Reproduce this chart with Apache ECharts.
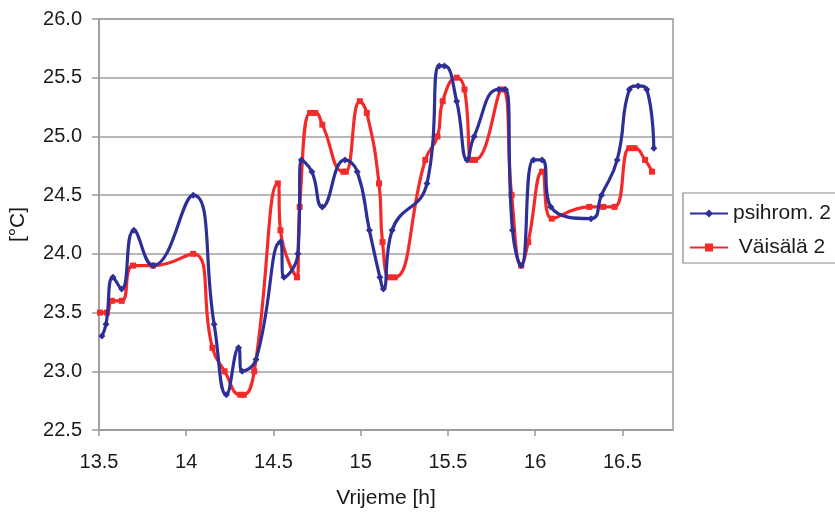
<!DOCTYPE html>
<html>
<head>
<meta charset="utf-8">
<script src="https://cdn.jsdelivr.net/npm/echarts@6/dist/echarts.min.js"></script>
<style>
  html, body { margin: 0; padding: 0; background: #ffffff; }
  #chart { width: 835px; height: 514px; }
</style>
</head>
<body>
<div id="chart"></div>
<script>
// Time of day [h] and temperature [°C] for the psychrometer
const psihromTime = [13.517, 13.54, 13.58, 13.63, 13.70, 13.81, 14.04, 14.16, 14.23, 14.30, 14.32, 14.40,
  14.54, 14.56, 14.64, 14.66, 14.72, 14.78, 14.91, 14.98, 15.05, 15.11, 15.13, 15.18, 15.38, 15.45,
  15.48, 15.55, 15.61, 15.65, 15.79, 15.83, 15.87, 15.92, 15.99, 16.04, 16.09, 16.32, 16.38, 16.47,
  16.54, 16.59, 16.64, 16.68];
const psihromTemp = [23.3, 23.4, 23.8, 23.7, 24.2, 23.9, 24.5, 23.4, 22.8, 23.2, 23.0, 23.1,
  24.1, 23.8, 24.0, 24.8, 24.7, 24.4, 24.8, 24.7, 24.2, 23.8, 23.7, 24.2, 24.6, 25.6,
  25.6, 25.3, 24.8, 25.0, 25.4, 25.4, 24.2, 23.9, 24.8, 24.8, 24.4, 24.3, 24.5, 24.8,
  25.4, 25.43, 25.4, 24.9];

// Time of day [h] and temperature [°C] for the Väisälä sensor
const vaisalaTime = [13.506, 13.546, 13.574, 13.63, 13.695, 13.81, 14.04, 14.15, 14.22, 14.31, 14.33, 14.39,
  14.525, 14.54, 14.635, 14.65, 14.71, 14.74, 14.78, 14.90, 14.915, 14.995, 15.035, 15.105, 15.125,
  15.165, 15.195, 15.37, 15.44, 15.47, 15.55, 15.595, 15.635, 15.655, 15.81, 15.865, 15.92, 15.96,
  16.04, 16.095, 16.31, 16.39, 16.455, 16.54, 16.57, 16.63, 16.67];
const vaisalaTemp = [23.5, 23.5, 23.6, 23.6, 23.9, 23.9, 24.0, 23.2, 23.0, 22.8, 22.8, 23.0,
  24.6, 24.2, 23.8, 24.4, 25.2, 25.2, 25.1, 24.7, 24.7, 25.3, 25.2, 24.6, 24.1,
  23.8, 23.8, 24.8, 25.0, 25.3, 25.5, 25.4, 24.8, 24.8, 25.4, 24.5, 23.9, 24.1,
  24.7, 24.3, 24.4, 24.4, 24.4, 24.9, 24.9, 24.8, 24.7];

const seriesNames = ['psihrom. 2', 'Väisälä 2'];
const xAxisTitle = 'Vrijeme [h]';
const yAxisTitle = '[°C]';

const pairs = (xs, ys) => xs.map((x, i) => [x, ys[i]]);

const FONT = 'Liberation Sans, Arial, sans-serif';
const BLUE = '#2D2F96';
const RED = '#F42A2A';
const INK = '#1a1a1a';
const GRID_GRAY = '#9a9a9a';

const chart = echarts.init(document.getElementById('chart'), null, { renderer: 'canvas' });
chart.setOption({
  backgroundColor: '#ffffff',
  animation: false,
  grid: {
    left: 99, top: 19, width: 574, height: 412,
    show: true, borderColor: GRID_GRAY, borderWidth: 1.5, backgroundColor: 'transparent'
  },
  legend: {
    orient: 'vertical',
    left: 683, top: 193,
    padding: [10, 40, 5, 6],
    itemGap: 13,
    itemWidth: 38, itemHeight: 10,
    borderColor: '#8a8a8a', borderWidth: 1.2, borderRadius: 0,
    textStyle: { fontFamily: FONT, fontSize: 21, color: INK },
    formatter: name => name === seriesNames[1] ? ' ' + name : name,
    data: seriesNames
  },
  xAxis: {
    type: 'value',
    min: 13.5, max: 16.79, interval: 0.5,
    name: xAxisTitle, nameLocation: 'middle', nameGap: 58,
    nameTextStyle: { fontFamily: FONT, fontSize: 21, color: INK },
    axisLine: { show: true, lineStyle: { color: GRID_GRAY, width: 1.5 } },
    axisTick: { show: true, inside: false, length: 6, lineStyle: { color: GRID_GRAY, width: 1.5 } },
    axisLabel: {
      margin: 22, fontFamily: FONT, fontSize: 20, color: INK,
      showMaxLabel: false,
      formatter: v => (Math.abs(v * 2 - Math.round(v * 2)) < 1e-6 ? String(v) : '')
    },
    splitLine: { show: false }
  },
  yAxis: {
    type: 'value',
    min: 22.5, max: 26.0, interval: 0.5,
    name: yAxisTitle, nameLocation: 'middle', nameGap: 70, nameRotate: 90,
    nameTextStyle: { fontFamily: FONT, fontSize: 21, color: INK },
    axisLine: { show: true, lineStyle: { color: GRID_GRAY, width: 1.5 } },
    axisTick: { show: true, inside: false, length: 7, lineStyle: { color: GRID_GRAY, width: 1.5 } },
    axisLabel: {
      margin: 17, fontFamily: FONT, fontSize: 20, color: INK,
      formatter: v => v.toFixed(1)
    },
    splitLine: { show: true, lineStyle: { color: '#a0a0a0', width: 1.5 } }
  },
  series: [
    {
      name: seriesNames[0], type: 'line', smooth: 0.5,
      data: pairs(psihromTime, psihromTemp),
      symbol: 'diamond', symbolSize: 7,
      lineStyle: { color: BLUE, width: 3.2 },
      itemStyle: { color: BLUE },
      z: 3
    },
    {
      name: seriesNames[1], type: 'line', smooth: 0.5,
      data: pairs(vaisalaTime, vaisalaTemp),
      symbol: 'rect', symbolSize: 6,
      lineStyle: { color: RED, width: 3.2 },
      itemStyle: { color: RED },
      z: 2
    }
  ]
});
</script>
</body>
</html>
